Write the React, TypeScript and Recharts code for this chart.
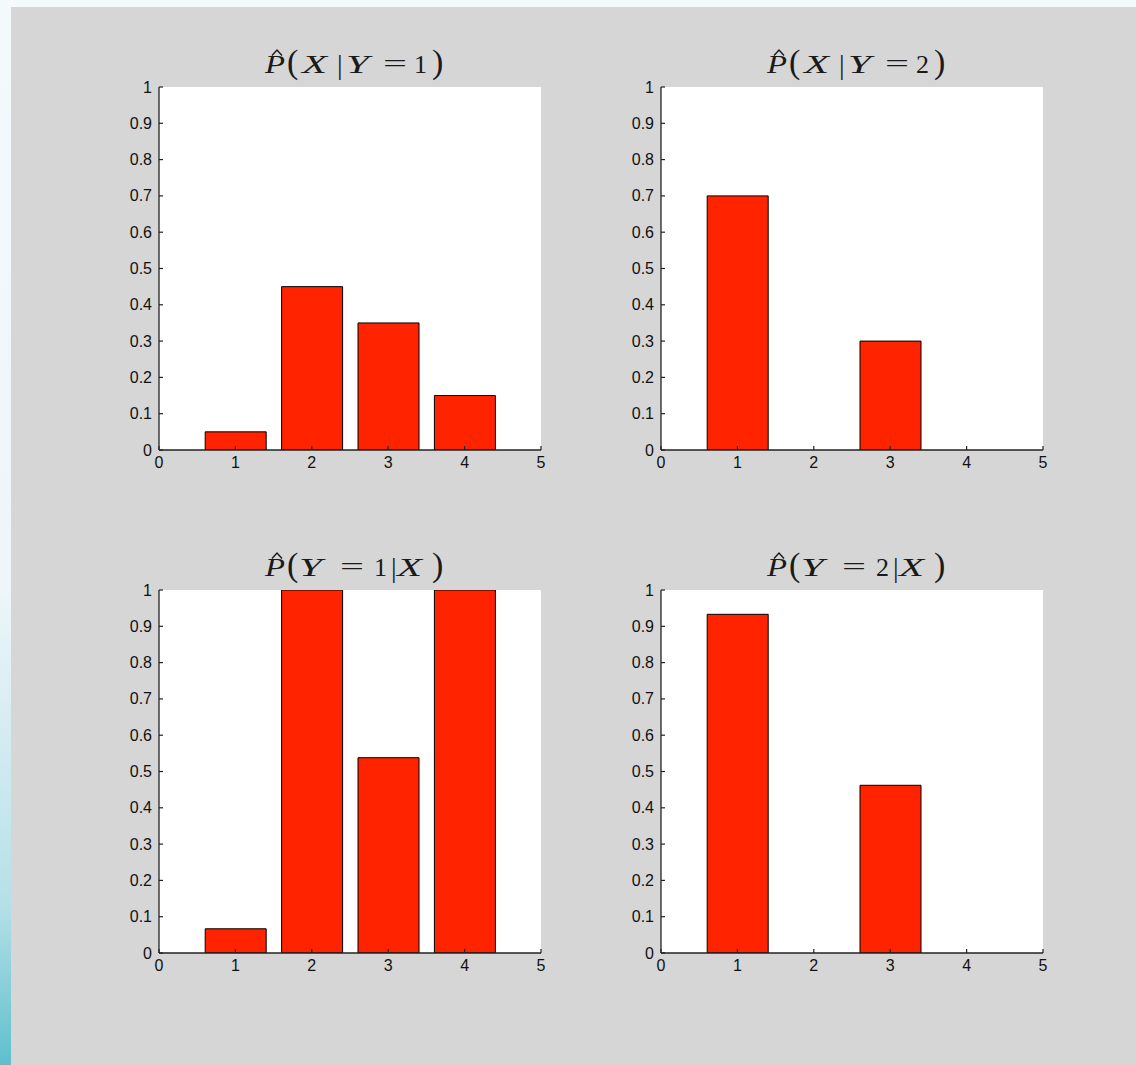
import React from 'react';
import { BarChart, Bar, XAxis, YAxis, CartesianGrid } from 'recharts';

const X_VALUES = [1, 2, 3, 4];
const P_X_GIVEN_Y1 = [0.05, 0.45, 0.35, 0.15];
const P_X_GIVEN_Y2 = [0.7, 0, 0.3, 0];
const P_Y1_GIVEN_X = [0.0667, 1, 0.538, 1];
const P_Y2_GIVEN_X = [0.933, 0, 0.462, 0];

const X_TICKS = [0, 1, 2, 3, 4, 5];
const Y_TICKS = [0, 0.1, 0.2, 0.3, 0.4, 0.5, 0.6, 0.7, 0.8, 0.9, 1];
const Y_TICK_LABELS = ['0', '0.1', '0.2', '0.3', '0.4', '0.5', '0.6', '0.7', '0.8', '0.9', '1'];

type Piece = { t: string; dx: number; italic?: boolean; size: number; w?: number; dy?: number };

const TITLE_X_GIVEN_Y = (n: string): Piece[] => [
  { t: 'P', dx: 106, italic: true, size: 26, w: 20 },
  { t: '(', dx: 128, size: 34 },
  { t: 'X', dx: 143, italic: true, size: 26, w: 25 },
  { t: '|', dx: 178, size: 28, dy: 1 },
  { t: 'Y', dx: 187, italic: true, size: 26, w: 23 },
  { t: '=', dx: 224, size: 26, w: 24, dy: -1 },
  { t: n, dx: 255, size: 26 },
  { t: ')', dx: 273, size: 34 },
];

const TITLE_Y_GIVEN_X = (n: string): Piece[] => [
  { t: 'P', dx: 106, italic: true, size: 26, w: 20 },
  { t: '(', dx: 128, size: 34 },
  { t: 'Y', dx: 140, italic: true, size: 26, w: 23 },
  { t: '=', dx: 181, size: 26, w: 24, dy: -1 },
  { t: n, dx: 215, size: 26 },
  { t: '|', dx: 232, size: 28, dy: 1 },
  { t: 'X', dx: 238, italic: true, size: 26, w: 25 },
  { t: ')', dx: 273, size: 34 },
];

const PANELS = [
  { values: P_X_GIVEN_Y1, title: TITLE_X_GIVEN_Y('1'), plotLeft: 159, plotTop: 87 },
  { values: P_X_GIVEN_Y2, title: TITLE_X_GIVEN_Y('2'), plotLeft: 661, plotTop: 87 },
  { values: P_Y1_GIVEN_X, title: TITLE_Y_GIVEN_X('1'), plotLeft: 159, plotTop: 590 },
  { values: P_Y2_GIVEN_X, title: TITLE_Y_GIVEN_X('2'), plotLeft: 661, plotTop: 590 },
];

const AXIS_COLOR = '#222';
const TICK_FONT = '"Liberation Sans", Arial, sans-serif';
const SERIF = '"Liberation Serif", "Times New Roman", serif';

const YTick = (props: any) => {
  const { x, y, payload } = props;
  const idx = Y_TICKS.indexOf(payload.value);
  const label = idx >= 0 ? Y_TICK_LABELS[idx] : String(payload.value);
  return (
    <g>
      <line x1={x + 7} x2={x + 11} y1={y} y2={y} stroke={AXIS_COLOR} strokeWidth={1.2} />
      <text x={x} y={y + 5.5} textAnchor="end" fontSize={16} fontFamily={TICK_FONT} fill="#111">
        {label}
      </text>
    </g>
  );
};

const XTick = (props: any) => {
  const { x, y, payload } = props;
  return (
    <g>
      <line x1={x} x2={x} y1={y - 6} y2={y - 10} stroke={AXIS_COLOR} strokeWidth={1.2} />
      <text x={x} y={y + 11.5} textAnchor="middle" fontSize={16} fontFamily={TICK_FONT} fill="#111">
        {String(payload.value)}
      </text>
    </g>
  );
};

const Title = ({ pieces, left, top }: { pieces: Piece[]; left: number; top: number }) => {
  const base = 36;
  return (
    <svg
      width={300}
      height={50}
      style={{ position: 'absolute', left, top: top - 50, overflow: 'visible' }}
    >
      <path d="M 113 18.5 L 118 13 L 123 18.5" fill="none" stroke="#1a1a1a" strokeWidth={1.4} />
      {pieces.map((p, i) => (
        <text
          key={i}
          x={p.dx}
          y={base + (p.dy || 0)}
          fontSize={p.size}
          fontFamily={SERIF}
          fontStyle={p.italic ? 'italic' : 'normal'}
          fill="#1a1a1a"
          {...(p.w ? { textLength: p.w, lengthAdjust: 'spacingAndGlyphs' } : {})}
        >
          {p.t}
        </text>
      ))}
    </svg>
  );
};

const Panel = ({ values, title, plotLeft, plotTop }: any) => {
  const data = X_VALUES.map((x, i) => ({ x, v: values[i] }));
  return (
    <>
      <Title pieces={title} left={plotLeft} top={plotTop} />
      <div style={{ position: 'absolute', left: plotLeft - 50, top: plotTop - 10 }}>
        <BarChart
          width={442}
          height={403}
          data={data}
          margin={{ top: 10, right: 10, left: 0, bottom: 0 }}
        >
          <CartesianGrid horizontal={false} vertical={false} fill="#ffffff" fillOpacity={1} stroke="none" />
          <XAxis
            dataKey="x"
            type="number"
            domain={[0, 5]}
            ticks={X_TICKS}
            interval={0}
            height={30}
            tickSize={0}
            tickMargin={6}
            axisLine={{ stroke: AXIS_COLOR, strokeWidth: 1.3 }}
            tickLine={false}
            tick={<XTick />}
            allowDataOverflow
          />
          <YAxis
            type="number"
            domain={[0, 1]}
            ticks={Y_TICKS}
            interval={0}
            width={50}
            tickSize={0}
            tickMargin={7}
            axisLine={{ stroke: AXIS_COLOR, strokeWidth: 1.3 }}
            tickLine={false}
            tick={<YTick />}
            allowDataOverflow
          />
          <Bar dataKey="v" fill="#ff2300" stroke="#000" strokeWidth={1} barSize={61} isAnimationActive={false} />
        </BarChart>
      </div>
    </>
  );
};

export default function App() {
  return (
    <div
      style={{
        position: 'absolute',
        left: 0,
        top: 0,
        width: 1136,
        height: 1065,
        overflow: 'hidden',
        background:
          'linear-gradient(to bottom, #f4f9fc 0%, #eef6f9 55%, #b5e0e8 85%, #5ebfcc 100%)',
      }}
    >
      <div
        style={{
          position: 'absolute',
          left: 11,
          top: 7,
          right: 0,
          bottom: 0,
          background: '#d6d6d6',
        }}
      />
      {PANELS.map((p, i) => (
        <Panel key={i} {...p} />
      ))}
    </div>
  );
}
